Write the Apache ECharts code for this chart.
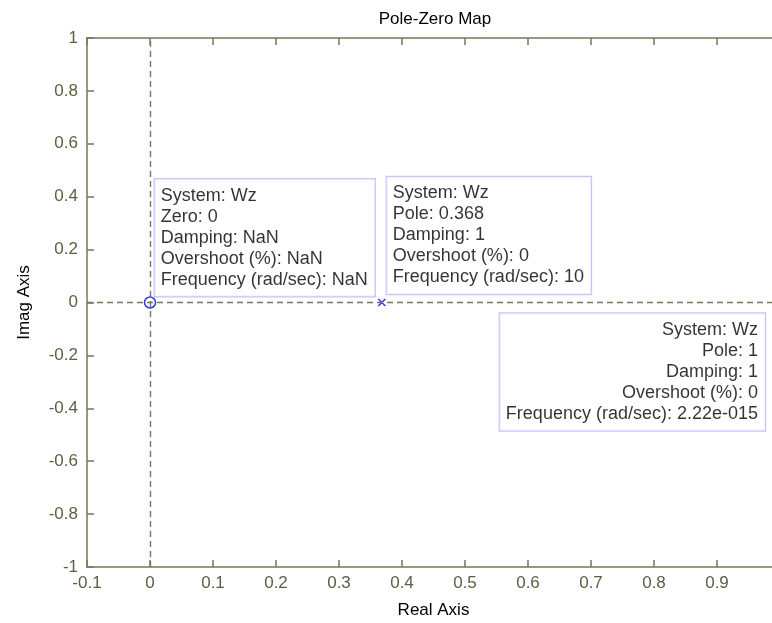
<!DOCTYPE html>
<html><head><meta charset="utf-8">
<script src="https://cdn.jsdelivr.net/npm/echarts@6/dist/echarts.min.js"></script>
<style>html,body{margin:0;padding:0;background:#fff}#c{width:772px;height:623px}</style>
</head><body><div id="c"></div>
<script>
// Data
const zeros = [[0, 0]];
const poles = [[0.368, 0], [1, 0]];
const zeroTip = ['System: Wz', 'Zero: 0', 'Damping: NaN', 'Overshoot (%): NaN', 'Frequency (rad/sec): NaN'];
const poleTips = [
  ['System: Wz', 'Pole: 0.368', 'Damping: 1', 'Overshoot (%): 0', 'Frequency (rad/sec): 10'],
  ['System: Wz', 'Pole: 1', 'Damping: 1', 'Overshoot (%): 0', 'Frequency (rad/sec): 2.22e-015']
];
const xMin = -0.1, xMax = 1, xStep = 0.1;
const yMin = -1, yMax = 1, yStep = 0.2;

const axisCol = '#77775a';
const labCol = '#5e5e42';
const font = 'Liberation Sans, Arial, sans-serif';
const fs = 17;
const tipBase = {
  show: true, color: '#000', fontSize: 18, fontFamily: font, lineHeight: 21,
  backgroundColor: '#fff', borderColor: '#b8b8ff', borderWidth: 1.2,
  padding: [6, 7, 6, 6]
};

const chart = echarts.init(document.getElementById('c'));
chart.setOption({
  animation: false,
  title: { text: 'Pole-Zero Map', left: 430, top: 6, textAlign: 'center',
    textStyle: { fontSize: fs, fontWeight: 'normal', color: '#000', fontFamily: font } },
  grid: { left: 87, right: -8, top: 38, bottom: 56, outerBoundsMode: 'none', containLabel: false },
  xAxis: [{
    type: 'value', min: xMin, max: xMax, interval: xStep,
    name: 'Real Axis', nameLocation: 'middle', nameGap: 35,
    nameTextStyle: { color: '#000', fontSize: fs, fontFamily: font },
    axisLine: { onZero: false, lineStyle: { color: axisCol, width: 1.5 } },
    axisTick: { inside: true, length: 7, lineStyle: { color: axisCol, width: 1.5 } },
    axisLabel: { color: labCol, fontSize: fs, fontFamily: font, margin: 8 },
    splitLine: { show: false }
  }, {
    type: 'value', min: xMin, max: xMax, interval: xStep, position: 'top',
    axisLine: { onZero: false, lineStyle: { color: axisCol, width: 1.5 } },
    axisTick: { inside: true, length: 7, lineStyle: { color: axisCol, width: 1.5 } },
    axisLabel: { show: false }, splitLine: { show: false }
  }],
  yAxis: [{
    type: 'value', min: yMin, max: yMax, interval: yStep,
    name: 'Imag Axis', nameLocation: 'middle', nameGap: 54, nameRotate: 90,
    nameTextStyle: { color: '#000', fontSize: fs, fontFamily: font },
    axisLine: { show: true, onZero: false, lineStyle: { color: axisCol, width: 1.5 } },
    axisTick: { show: true, inside: true, length: 7, lineStyle: { color: axisCol, width: 1.5 } },
    axisLabel: { color: labCol, fontSize: fs, fontFamily: font, margin: 9 },
    splitLine: { show: false }
  }, {
    type: 'value', min: yMin, max: yMax, interval: yStep, position: 'right',
    axisLine: { show: true, onZero: false, lineStyle: { color: axisCol, width: 1.5 } },
    axisTick: { show: true, inside: true, length: 7, lineStyle: { color: axisCol, width: 1.5 } },
    axisLabel: { show: false }, splitLine: { show: false }
  }],
  series: [{
    type: 'scatter', name: 'zeros', clip: false,
    symbol: 'circle', symbolSize: 11,
    itemStyle: { color: 'rgba(255,255,255,0)', borderColor: '#0000ff', borderWidth: 1.5 },
    data: zeros.map((p, i) => ({
      value: p,
      label: Object.assign({}, tipBase, {
        formatter: zeroTip.join('\n'), position: [11, 0], align: 'left', verticalAlign: 'bottom'
      })
    })),
    markLine: {
      silent: true, symbol: 'none', label: { show: false },
      lineStyle: { color: axisCol, type: [6, 4], width: 1.4 },
      data: [{ xAxis: 0 }, { yAxis: 0 }]
    },
    z: 3
  }, {
    type: 'scatter', name: 'poles', clip: false,
    symbol: 'path://M0,0L10,10M0,10L10,0', symbolSize: 7,
    itemStyle: { color: 'none', borderColor: '#0000ff', borderWidth: 1.5 },
    data: poles.map((p, i) => ({
      value: p,
      label: Object.assign({}, tipBase, i === 0
        ? { formatter: poleTips[i].join('\n'), position: [11, -2.5], align: 'left', verticalAlign: 'bottom' }
        : { formatter: poleTips[i].join('\n'), position: [-9, 17], align: 'right', verticalAlign: 'top' })
    })),
    z: 4
  }]
});
</script></body></html>
